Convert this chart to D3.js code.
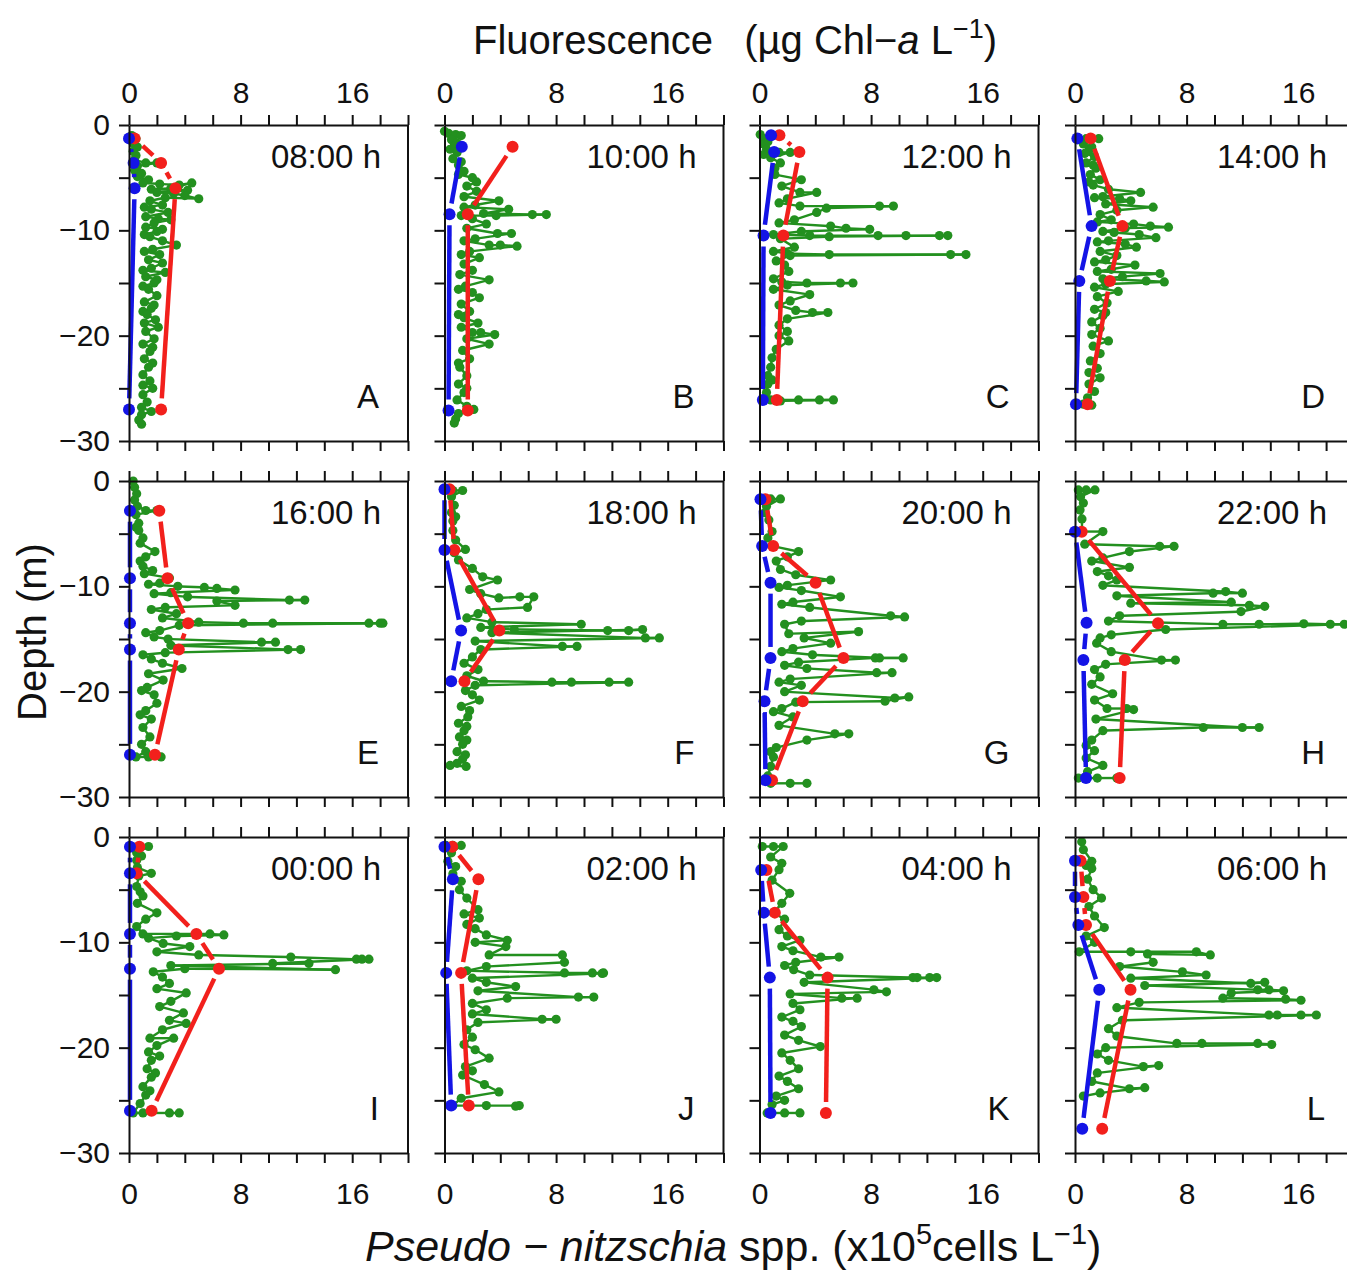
<!DOCTYPE html>
<html>
<head>
<meta charset="utf-8">
<script src="https://cdn.jsdelivr.net/npm/d3@7"></script>
<style>
body { margin: 0; background: #fff; }
text { font-family: "Liberation Sans", Arial, sans-serif; fill: #111; }
</style>
</head>
<body>
<svg id="svg"></svg>
<script>
// panel labels
const times = ["08:00 h", "10:00 h", "12:00 h", "14:00 h", "16:00 h", "18:00 h",
               "20:00 h", "22:00 h", "00:00 h", "02:00 h", "04:00 h", "06:00 h"];
const letters = ["A", "B", "C", "D", "E", "F", "G", "H", "I", "J", "K", "L"];
const xTicks = [0, 2, 4, 6, 8, 10, 12, 14, 16, 18, 20];
const xLabels = [0, 8, 16];
const yTicks = [0, -5, -10, -15, -20, -25, -30];
const yLabels = [0, -10, -20, -30];

// fluorescence profiles [value, depth]
const fluoA = [[0.2,-1.0],[0.5,-1.3],[0.3,-1.7],[0.6,-2.1],[0.3,-2.5],[0.5,-2.9],[0.4,-3.3],[1.2,-3.6],[2.0,-3.6],[0.6,-3.9],[0.4,-4.3],[0.9,-4.6],[0.6,-4.9],[1.4,-5.2],[1.0,-5.5],[2.2,-5.6],[3.6,-5.7],[4.5,-5.5],[3.0,-6.0],[1.6,-6.1],[4.2,-6.2],[2.0,-6.4],[3.2,-6.5],[4.0,-6.7],[5.0,-7.0],[2.6,-6.9],[1.5,-7.2],[2.4,-7.6],[1.1,-7.8],[1.6,-8.0],[2.8,-8.3],[1.2,-8.7],[2.1,-8.9],[3.0,-9.0],[1.8,-9.3],[1.2,-9.7],[2.4,-9.9],[2.0,-10.1],[1.1,-10.4],[1.5,-10.6],[2.4,-11.0],[3.4,-11.4],[1.7,-11.8],[1.1,-12.0],[2.2,-12.3],[1.4,-12.8],[2.4,-13.1],[1.6,-13.6],[1.0,-13.8],[2.6,-14.0],[1.2,-14.4],[2.0,-14.7],[1.8,-15.0],[1.0,-15.3],[1.4,-15.6],[2.0,-16.2],[1.1,-16.8],[1.8,-17.1],[1.6,-17.4],[1.0,-17.7],[1.3,-18.0],[1.9,-18.5],[1.1,-18.8],[2.1,-19.2],[1.2,-19.6],[1.8,-20.3],[1.0,-20.8],[1.7,-21.1],[1.5,-21.5],[1.1,-22.2],[1.7,-22.6],[1.4,-23.0],[1.0,-23.7],[1.5,-24.3],[1.0,-24.7],[1.7,-25.0],[1.0,-25.6],[1.3,-26.3],[0.9,-26.8],[1.6,-27.2],[0.9,-27.5],[0.7,-28.0],[0.9,-28.4]];
const fluoB = [[0.0,-0.6],[0.3,-0.8],[0.8,-0.9],[1.2,-1.0],[0.5,-1.4],[0.9,-1.7],[0.7,-2.0],[0.4,-2.3],[0.9,-2.6],[0.6,-3.2],[1.2,-3.5],[1.0,-3.8],[1.4,-4.4],[1.0,-4.7],[2.0,-5.0],[2.3,-5.4],[1.6,-5.8],[2.3,-6.3],[1.4,-6.8],[3.9,-7.2],[2.2,-7.6],[1.4,-7.8],[4.6,-8.0],[2.8,-8.4],[6.3,-8.5],[7.3,-8.5],[3.7,-8.6],[1.2,-8.6],[2.0,-8.9],[3.0,-9.4],[1.6,-9.8],[3.8,-10.3],[4.8,-10.3],[2.2,-10.8],[1.4,-11.0],[3.2,-11.4],[4.0,-11.4],[5.2,-11.5],[1.8,-12.0],[1.2,-12.3],[2.5,-12.6],[1.4,-13.2],[2.0,-13.8],[1.1,-14.2],[3.2,-14.7],[1.5,-15.3],[1.0,-15.6],[2.0,-15.9],[2.5,-16.4],[1.2,-17.0],[1.8,-17.7],[1.0,-18.0],[1.4,-18.3],[2.4,-18.8],[1.2,-19.2],[2.0,-19.7],[2.6,-19.7],[3.6,-19.9],[1.6,-20.3],[3.2,-20.8],[1.3,-21.4],[1.8,-22.2],[1.0,-22.6],[1.1,-23.0],[1.6,-23.8],[1.0,-24.6],[1.6,-25.0],[1.4,-25.4],[0.9,-26.1],[1.6,-26.7],[2.1,-27.0],[1.0,-27.4],[0.8,-27.9],[0.7,-28.3]];
const fluoC = [[0.05,-0.9],[0.3,-1.3],[0.6,-1.6],[0.3,-1.8],[0.5,-2.3],[0.3,-2.8],[1.4,-2.6],[2.2,-2.6],[0.8,-3.1],[1.5,-3.6],[1.1,-4.1],[1.1,-4.7],[3.0,-5.2],[1.6,-5.8],[2.9,-6.4],[4.1,-6.4],[2.0,-7.0],[1.4,-7.4],[2.9,-7.7],[8.6,-7.7],[9.6,-7.7],[4.8,-7.9],[4.1,-8.3],[2.5,-9.0],[1.4,-9.3],[5.1,-9.6],[6.2,-9.8],[7.9,-9.9],[3.0,-10.1],[1.0,-10.4],[3.6,-10.5],[8.5,-10.5],[10.5,-10.5],[12.9,-10.5],[13.5,-10.5],[5.0,-10.6],[1.5,-10.8],[2.5,-11.6],[1.0,-12.0],[2.0,-12.2],[5.0,-12.3],[13.7,-12.3],[14.8,-12.3],[2.2,-12.4],[1.2,-12.9],[1.8,-13.3],[2.1,-13.9],[1.0,-14.6],[1.6,-14.9],[3.4,-15.0],[5.8,-15.0],[6.7,-15.0],[2.0,-15.2],[1.0,-15.6],[3.6,-16.1],[2.2,-16.7],[1.4,-17.1],[2.6,-17.6],[3.8,-17.8],[4.9,-17.8],[2.0,-18.4],[1.4,-19.0],[2.0,-19.6],[1.4,-20.0],[2.1,-20.5],[1.2,-21.3],[0.9,-22.1],[0.8,-23.0],[0.6,-23.8],[0.9,-24.2],[0.6,-24.6],[0.5,-25.4],[0.8,-26.1],[2.8,-26.1],[4.3,-26.1],[5.3,-26.1],[1.5,-26.2]];
const fluoD = [[0.2,-1.2],[0.8,-1.3],[1.7,-1.3],[0.6,-1.8],[1.2,-2.1],[1.0,-2.4],[0.7,-2.7],[1.4,-3.0],[0.8,-3.6],[1.3,-3.8],[1.5,-4.1],[1.1,-4.7],[1.8,-5.2],[1.0,-5.4],[1.3,-5.7],[2.4,-6.1],[4.7,-6.4],[2.0,-6.8],[1.4,-6.9],[3.2,-7.0],[4.0,-7.2],[2.2,-7.5],[5.6,-7.8],[3.0,-8.1],[1.8,-8.5],[2.6,-9.0],[1.6,-9.2],[4.2,-9.4],[5.4,-9.6],[6.7,-9.7],[3.6,-9.8],[2.0,-10.1],[2.8,-10.2],[4.6,-10.4],[5.8,-10.7],[2.4,-11.0],[1.6,-11.1],[3.6,-11.3],[4.4,-11.6],[1.8,-12.0],[3.0,-12.4],[2.2,-12.8],[1.4,-13.0],[4.3,-13.3],[2.6,-13.7],[1.6,-13.9],[6.1,-14.1],[3.4,-14.4],[2.0,-14.6],[5.1,-14.8],[6.4,-14.9],[2.2,-15.1],[1.4,-15.4],[3.1,-15.8],[1.6,-16.3],[2.3,-16.9],[1.4,-17.5],[2.2,-17.8],[2.0,-18.1],[1.2,-18.7],[1.8,-19.3],[1.2,-19.9],[2.4,-20.5],[1.3,-21.0],[1.8,-21.7],[1.1,-22.4],[1.6,-23.1],[1.0,-23.5],[1.8,-24.0],[1.0,-24.6],[1.4,-25.3],[0.9,-25.9],[0.6,-26.5],[1.2,-26.6]];
const fluoE = [[0.3,0.0],[0.4,-0.6],[0.55,-1.2],[0.4,-1.8],[0.6,-2.4],[1.2,-2.8],[2.0,-2.8],[0.5,-3.2],[0.7,-4.0],[0.5,-4.4],[0.7,-4.7],[1.0,-5.4],[0.8,-5.9],[1.86,-6.7],[1.2,-7.2],[0.8,-7.6],[1.0,-8.1],[1.7,-8.5],[1.1,-8.8],[2.9,-9.2],[2.2,-9.7],[1.4,-9.8],[3.5,-10.0],[5.4,-10.1],[6.3,-10.2],[7.6,-10.35],[3.0,-10.6],[1.8,-10.7],[4.2,-11.0],[11.5,-11.3],[12.6,-11.3],[6.3,-11.4],[7.6,-11.8],[2.6,-12.0],[1.6,-12.2],[3.4,-12.6],[2.4,-13.0],[5.0,-13.4],[8.2,-13.5],[10.3,-13.5],[17.2,-13.5],[18.0,-13.5],[18.2,-13.5],[3.6,-13.7],[2.2,-14.2],[1.2,-14.4],[1.8,-14.8],[2.8,-15.0],[9.5,-15.3],[10.5,-15.3],[3.0,-15.6],[11.4,-16.0],[12.3,-16.0],[2.6,-16.3],[1.0,-16.5],[1.6,-16.9],[2.4,-17.3],[3.8,-17.8],[1.4,-18.3],[2.45,-18.9],[1.3,-19.6],[0.9,-19.9],[1.8,-20.3],[2.0,-21.1],[1.2,-21.8],[0.8,-22.2],[1.6,-22.6],[1.0,-23.4],[1.5,-24.3],[0.9,-25.0],[1.2,-25.7],[0.5,-26.2],[1.4,-26.2],[2.3,-26.2]];
const fluoF = [[0.1,-0.8],[0.6,-0.9],[1.3,-0.9],[0.5,-1.5],[0.7,-2.3],[0.5,-3.0],[0.8,-3.4],[0.6,-3.8],[0.6,-4.7],[0.8,-5.6],[1.5,-6.5],[0.7,-6.8],[1.0,-7.5],[2.0,-8.3],[2.74,-9.1],[3.8,-9.4],[1.8,-10.3],[2.6,-10.7],[3.9,-11.1],[5.4,-11.0],[6.4,-11.0],[5.95,-12.0],[3.0,-12.2],[2.4,-12.6],[1.6,-13.0],[3.4,-13.4],[9.8,-13.6],[2.6,-13.9],[5.0,-14.1],[11.7,-14.2],[13.2,-14.2],[14.2,-14.1],[3.4,-14.4],[14.4,-14.9],[15.4,-14.9],[2.2,-15.2],[8.45,-15.7],[9.5,-15.7],[2.6,-16.0],[2.0,-16.7],[1.4,-17.3],[2.4,-17.9],[1.6,-18.5],[2.8,-19.0],[7.7,-19.1],[9.1,-19.1],[11.8,-19.1],[13.2,-19.1],[2.2,-19.4],[1.5,-19.9],[2.0,-20.3],[2.5,-20.8],[1.2,-21.4],[1.8,-21.8],[1.67,-22.4],[1.0,-23.0],[1.6,-23.3],[1.4,-23.7],[1.07,-24.3],[1.6,-24.6],[1.3,-25.0],[0.9,-25.7],[1.5,-26.0],[1.3,-26.4],[0.9,-26.8],[0.4,-27.0],[1.55,-27.1]];
const fluoG = [[0.1,-1.7],[0.8,-1.7],[1.5,-1.7],[0.5,-2.4],[0.4,-3.0],[0.67,-3.7],[0.9,-4.8],[0.6,-5.4],[1.0,-6.2],[2.8,-6.7],[2.0,-7.2],[1.2,-7.6],[1.5,-8.4],[2.6,-8.9],[5.1,-9.4],[2.0,-9.9],[1.4,-10.1],[3.0,-10.4],[5.8,-11.0],[2.4,-11.5],[1.6,-11.7],[3.6,-12.0],[9.4,-12.8],[10.4,-12.9],[3.0,-13.3],[1.8,-13.6],[2.1,-14.5],[7.1,-14.3],[3.2,-14.9],[5.1,-15.4],[2.4,-15.9],[1.6,-16.2],[3.8,-16.5],[8.6,-16.8],[10.3,-16.8],[8.3,-16.8],[2.8,-17.2],[1.8,-17.5],[3.4,-17.8],[8.4,-18.2],[9.5,-18.2],[2.2,-18.8],[1.4,-19.1],[3.0,-19.4],[1.8,-20.0],[9.7,-20.6],[10.7,-20.5],[9.0,-20.9],[2.6,-21.0],[1.6,-21.6],[1.0,-21.9],[2.4,-22.4],[1.4,-23.2],[5.4,-24.0],[6.4,-24.0],[3.4,-24.6],[1.2,-25.3],[0.8,-25.7],[1.0,-26.2],[0.8,-27.1],[0.6,-28.0],[0.8,-28.7],[2.2,-28.7],[3.4,-28.7]];
const fluoH = [[0.24,-0.85],[0.8,-0.85],[1.43,-0.85],[0.4,-1.5],[0.6,-2.1],[0.36,-2.75],[0.5,-3.6],[0.5,-4.8],[2.0,-4.8],[0.7,-6.0],[6.07,-6.2],[7.1,-6.2],[3.9,-6.7],[2.0,-7.3],[1.2,-7.6],[3.9,-8.2],[1.6,-8.6],[2.4,-9.0],[3.0,-9.4],[2.0,-9.9],[10.8,-10.5],[12.0,-10.65],[9.9,-10.65],[3.0,-10.9],[11.2,-11.5],[4.0,-11.6],[12.5,-11.8],[13.6,-11.9],[11.9,-12.4],[3.2,-12.8],[2.4,-13.3],[10.6,-13.6],[13.2,-13.6],[16.4,-13.55],[18.3,-13.6],[19.3,-13.6],[6.5,-14.1],[2.6,-14.6],[1.8,-14.9],[1.55,-15.4],[2.6,-16.2],[6.2,-17.0],[7.2,-17.0],[2.2,-17.4],[1.4,-17.9],[1.8,-18.6],[1.2,-19.3],[2.7,-20.2],[1.4,-20.8],[2.3,-21.6],[3.7,-21.6],[4.2,-21.7],[1.5,-22.6],[12.0,-23.4],[13.2,-23.4],[9.2,-23.4],[2.0,-23.7],[1.2,-24.6],[0.8,-25.1],[1.4,-25.6],[0.8,-26.3],[2.0,-27.0],[0.9,-27.6],[0.24,-28.2],[1.6,-28.2],[3.0,-28.2]];
const fluoI = [[0.2,-0.9],[0.8,-0.9],[1.4,-0.9],[0.55,-1.5],[0.9,-1.8],[0.55,-2.2],[0.6,-2.9],[1.6,-3.45],[0.7,-3.7],[0.55,-4.7],[0.8,-5.2],[1.0,-5.6],[0.6,-6.3],[2.0,-7.2],[1.2,-7.8],[0.55,-8.5],[1.0,-9.2],[5.8,-9.2],[6.8,-9.3],[3.4,-9.4],[1.4,-9.6],[2.45,-10.1],[4.36,-10.4],[2.0,-10.9],[5.0,-11.2],[11.6,-11.4],[16.3,-11.6],[16.7,-11.6],[17.2,-11.6],[10.3,-12.0],[12.9,-12.0],[3.0,-12.2],[14.8,-12.6],[4.0,-12.5],[1.74,-12.8],[2.4,-13.3],[2.9,-13.9],[2.0,-14.4],[4.1,-14.8],[3.0,-15.6],[2.2,-16.1],[3.9,-16.7],[2.9,-17.4],[4.1,-17.7],[2.4,-18.3],[1.5,-19.1],[3.2,-19.1],[2.0,-19.8],[1.4,-20.4],[2.2,-20.8],[1.6,-21.2],[1.3,-22.0],[1.9,-22.4],[1.6,-22.8],[1.0,-23.7],[1.5,-24.1],[1.2,-24.5],[0.8,-25.3],[0.3,-26.2],[1.0,-26.2],[2.9,-26.2],[3.6,-26.2]];
const fluoJ = [[0.1,-0.8],[0.6,-0.8],[1.2,-0.8],[0.5,-1.5],[0.24,-2.3],[0.8,-2.8],[0.6,-3.5],[1.2,-4.2],[1.07,-5.0],[1.6,-5.8],[2.4,-6.9],[1.4,-7.3],[2.5,-7.7],[1.6,-8.3],[2.2,-8.7],[3.0,-9.3],[4.5,-9.8],[2.2,-10.0],[4.4,-10.4],[3.2,-11.2],[8.45,-11.2],[8.6,-11.9],[3.0,-12.3],[1.6,-12.7],[8.6,-12.9],[10.6,-12.9],[11.4,-12.9],[11.3,-12.95],[2.0,-13.4],[3.0,-13.8],[5.1,-14.2],[2.4,-14.6],[9.6,-15.2],[10.7,-15.2],[4.5,-15.3],[2.0,-15.8],[3.0,-16.4],[2.0,-16.8],[7.0,-17.3],[8.0,-17.3],[2.4,-17.6],[1.6,-18.3],[2.0,-19.0],[1.4,-19.7],[2.2,-20.2],[3.2,-21.0],[1.5,-21.8],[2.0,-22.2],[1.3,-22.6],[2.86,-23.5],[3.9,-24.2],[1.2,-24.8],[0.6,-25.5],[3.0,-25.5],[5.36,-25.5],[5.1,-25.55]];
const fluoK = [[0.2,-0.9],[1.0,-0.9],[1.7,-0.9],[0.8,-1.9],[1.6,-2.5],[1.4,-3.1],[0.9,-4.1],[2.17,-5.35],[1.6,-6.3],[1.0,-7.2],[1.8,-7.8],[1.4,-8.8],[2.0,-9.4],[2.9,-9.8],[1.6,-10.4],[2.4,-10.8],[4.4,-11.4],[5.7,-11.4],[2.6,-11.9],[1.8,-12.2],[2.45,-12.6],[3.6,-13.1],[11.0,-13.35],[11.3,-13.35],[12.2,-13.35],[12.7,-13.35],[3.2,-13.8],[8.2,-14.5],[9.1,-14.7],[2.2,-14.9],[5.9,-15.3],[7.0,-15.3],[2.4,-15.8],[2.9,-16.4],[1.6,-17.1],[2.4,-17.5],[3.0,-18.0],[1.8,-18.8],[2.8,-19.3],[4.36,-19.9],[1.6,-20.5],[2.2,-21.2],[2.8,-22.0],[1.4,-22.7],[2.0,-23.2],[2.8,-23.9],[1.2,-24.6],[1.8,-25.0],[0.9,-25.4],[0.55,-26.2],[1.8,-26.2],[2.9,-26.2]];
const fluoL = [[0.48,-0.45],[0.6,-1.2],[1.2,-2.3],[0.8,-2.7],[1.2,-3.0],[0.9,-4.0],[1.3,-5.0],[1.9,-5.8],[1.0,-6.6],[1.4,-7.5],[2.1,-8.6],[0.8,-9.4],[1.4,-10.0],[0.3,-10.9],[4.0,-10.9],[8.7,-10.9],[9.7,-11.2],[5.2,-11.1],[5.6,-11.9],[3.2,-12.3],[7.7,-12.8],[9.4,-13.1],[4.0,-13.4],[12.6,-13.9],[13.6,-13.8],[5.0,-14.1],[13.1,-14.5],[13.9,-14.5],[14.95,-14.6],[11.2,-14.8],[10.6,-15.3],[15.1,-15.4],[16.2,-15.5],[4.6,-15.7],[3.0,-16.2],[13.9,-16.9],[14.5,-16.9],[16.2,-16.9],[17.3,-16.9],[3.4,-17.4],[2.4,-18.2],[3.0,-18.9],[7.3,-19.6],[9.1,-19.6],[13.1,-19.6],[14.1,-19.7],[2.2,-20.0],[1.6,-20.6],[2.4,-21.2],[4.9,-21.8],[6.0,-21.7],[1.6,-22.4],[1.2,-23.2],[3.9,-23.9],[5.0,-23.8],[1.8,-24.3],[0.6,-24.6]];

// cell counts, red series [value, depth]
const redA = [[0.4,-1.27],[2.3,-3.6],[3.33,-6.0],[2.3,-27.0]];
const redB = [[4.88,-2.06],[1.67,-8.48],[1.67,-27.1]];
const redC = [[1.43,-0.98],[2.86,-2.56],[1.71,-10.5],[1.24,-26.1]];
const redD = [[1.12,-1.27],[3.4,-9.6],[2.5,-14.8],[0.9,-26.5]];
const redE = [[2.17,-2.82],[2.76,-9.24],[4.24,-13.5],[3.57,-16.0],[1.86,-26.0]];
const redF = [[0.36,-0.79],[0.71,-6.55],[3.93,-14.2],[1.43,-19.0]];
const redG = [[0.43,-1.74],[0.98,-6.17],[4.02,-9.65],[6.02,-16.8],[3.1,-20.9],[0.9,-28.4]];
const redH = [[0.48,-4.81],[5.95,-13.5],[3.57,-17.0],[3.2,-28.2]];
const redI = [[0.74,-0.92],[0.55,-3.45],[4.83,-9.2],[6.45,-12.5],[1.62,-26.0]];
const redJ = [[0.55,-0.92],[2.43,-4.02],[1.19,-12.9],[1.74,-25.5]];
const redK = [[0.5,-3.13],[1.1,-7.18],[4.88,-13.35],[4.76,-26.2]];
const redL = [[0.4,-2.25],[0.6,-5.7],[0.79,-8.35],[3.98,-14.5],[1.95,-27.7]];

// cell counts, blue series [value, depth]
const blueA = [[0.0,-1.27],[0.33,-3.6],[0.4,-6.0],[0.0,-27.0]];
const blueB = [[1.24,-2.06],[0.36,-8.48],[0.29,-27.1]];
const blueC = [[0.83,-0.98],[1.05,-2.56],[0.29,-10.5],[0.24,-26.1]];
const blueD = [[0.17,-1.27],[1.19,-9.6],[0.31,-14.8],[0.07,-26.5]];
const blueE = [[0.07,-2.82],[0.07,-9.24],[0.07,-13.5],[0.07,-16.0],[0.07,-26.0]];
const blueF = [[0.0,-0.79],[0.0,-6.55],[1.19,-14.2],[0.48,-19.0]];
const blueG = [[0.07,-1.74],[0.19,-6.17],[0.79,-9.65],[0.79,-16.8],[0.36,-20.9],[0.43,-28.4]];
const blueH = [[0.0,-4.81],[0.83,-13.45],[0.6,-17.0],[0.79,-28.2]];
const blueI = [[0.07,-0.92],[0.07,-3.45],[0.07,-9.2],[0.07,-12.5],[0.07,-26.0]];
const blueJ = [[0.0,-0.92],[0.6,-4.02],[0.12,-12.9],[0.48,-25.5]];
const blueK = [[0.12,-3.13],[0.31,-7.18],[0.74,-13.35],[0.79,-26.2]];
const blueL = [[0.0,-2.25],[0.0,-5.7],[0.24,-8.35],[1.74,-14.5],[0.52,-27.7]];

const fluoAll = [fluoA, fluoB, fluoC, fluoD, fluoE, fluoF, fluoG, fluoH, fluoI, fluoJ, fluoK, fluoL];
const redAll = [redA, redB, redC, redD, redE, redF, redG, redH, redI, redJ, redK, redL];
const blueAll = [blueA, blueB, blueC, blueD, blueE, blueF, blueG, blueH, blueI, blueJ, blueK, blueL];

const width = 1347, height = 1275;
const panelW = 279, panelH = 316;
const colX = [129, 444.5, 759.5, 1075];
const rowY = [125, 481, 837];
const green = "#23901f", red = "#f2201c", blue = "#1414e6";

const svg = d3.select("#svg").attr("width", width).attr("height", height);

const x = d3.scaleLinear().domain([0, 20]).range([0, panelW]);
const y = d3.scaleLinear().domain([0, -30]).range([0, panelH]);

// lines drawn with a gap round each point
function gapSegments(pts, gap) {
    const segs = [];
    for (let i = 1; i < pts.length; i++) {
        const x1 = x(pts[i-1][0]), y1 = y(pts[i-1][1]);
        const x2 = x(pts[i][0]), y2 = y(pts[i][1]);
        const dx = x2 - x1, dy = y2 - y1, L = Math.hypot(dx, dy);
        if (L <= 2 * gap) continue;
        const ux = dx / L, uy = dy / L;
        segs.push([x1 + ux * gap, y1 + uy * gap, x2 - ux * gap, y2 - uy * gap]);
    }
    return segs;
}

function drawSeries(g, pts, color, lw, r, gap) {
    g.append("g").selectAll("line")
        .data(gapSegments(pts, gap))
        .join("line")
        .attr("x1", d => d[0]).attr("y1", d => d[1])
        .attr("x2", d => d[2]).attr("y2", d => d[3])
        .attr("stroke", color).attr("stroke-width", lw);
    g.append("g").selectAll("circle")
        .data(pts)
        .join("circle")
        .attr("cx", d => x(d[0])).attr("cy", d => y(d[1]))
        .attr("r", r).attr("fill", color);
}

letters.forEach((letter, i) => {
    const col = i % 4, row = Math.floor(i / 4);
    const g = svg.append("g").attr("transform", `translate(${colX[col]}, ${rowY[row]})`);

    g.append("clipPath").attr("id", "clip" + i)
        .append("rect").attr("x", -7).attr("y", -7).attr("width", panelW + 7).attr("height", panelH + 7);
    const plot = g.append("g").attr("clip-path", `url(#clip${i})`);

    drawSeries(plot, fluoAll[i], green, 2.4, 4.6, 3);
    drawSeries(plot, redAll[i], red, 4.5, 6, 11);
    drawSeries(plot, blueAll[i], blue, 4.5, 6, 11);

    const fmtX = d => (xLabels.includes(d) ? d : "");
    const fmtY = d => (yLabels.includes(d) ? d3.format("")(d) : "");

    const top = g.append("g")
        .call(d3.axisTop(x).tickValues(xTicks).tickSize(10).tickSizeOuter(0).tickPadding(12)
            .tickFormat(row === 0 ? fmtX : ""));
    const bottom = g.append("g").attr("transform", `translate(0, ${panelH})`)
        .call(d3.axisBottom(x).tickValues(xTicks).tickSize(10).tickSizeOuter(0).tickPadding(20)
            .tickFormat(row === 2 ? fmtX : ""));
    const left = g.append("g")
        .call(d3.axisLeft(y).tickValues(yTicks).tickSize(10).tickSizeOuter(0).tickPadding(9)
            .tickFormat(col === 0 ? fmtY : ""));
    g.append("line").attr("x1", panelW).attr("x2", panelW).attr("y1", 0).attr("y2", panelH)
        .attr("stroke", "#111").attr("stroke-width", 2);

    [top, bottom, left].forEach(a => {
        a.select(".domain").attr("stroke", "#111").attr("stroke-width", 2);
        a.selectAll(".tick line").attr("stroke", "#111").attr("stroke-width", 2);
        a.selectAll(".tick text").attr("font-size", 30).attr("fill", "#111")
            .style("font-family", "'Liberation Sans', Arial, sans-serif");
    });

    g.append("text").attr("x", panelW - 27).attr("y", 43)
        .attr("text-anchor", "end").attr("font-size", 33).text(times[i]);
    g.append("text").attr("x", panelW - 29).attr("y", panelH - 33)
        .attr("text-anchor", "end").attr("font-size", 33).text(letter);
});

// titles
const t1 = svg.append("text").attr("x", 473).attr("y", 54).attr("font-size", 40);
t1.append("tspan").text("Fluorescence\u2002 (µg Chl\u2212");
t1.append("tspan").attr("font-style", "italic").text("a");
t1.append("tspan").text(" L");
t1.append("tspan").attr("font-size", 27).attr("dy", -16).text("\u22121");
t1.append("tspan").attr("dy", 16).text(")");

const t2 = svg.append("text").attr("x", 365).attr("y", 1261).attr("font-size", 43);
t2.append("tspan").attr("font-style", "italic").text("Pseudo \u2212 nitzschia");
t2.append("tspan").text(" spp. (x10");
t2.append("tspan").attr("font-size", 29).attr("dy", -17).text("5");
t2.append("tspan").attr("dy", 17).text("cells L");
t2.append("tspan").attr("font-size", 29).attr("dy", -17).text("\u22121");
t2.append("tspan").attr("dy", 17).text(")");

svg.append("text").attr("transform", "translate(46, 632) rotate(-90)")
    .attr("text-anchor", "middle").attr("font-size", 40).text("Depth (m)");
</script>
</body>
</html>
